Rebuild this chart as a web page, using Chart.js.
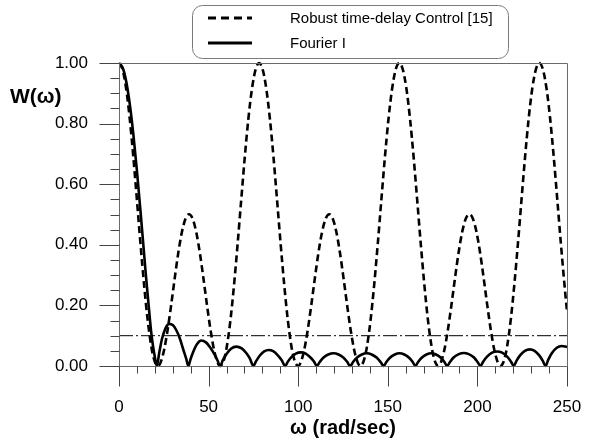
<!DOCTYPE html>
<html>
<head>
<meta charset="utf-8">
<script src="https://cdn.jsdelivr.net/npm/chart.js@4.4.1/dist/chart.umd.min.js"></script>
<style>
html,body{margin:0;padding:0;background:#fff;}
canvas{display:block;}
</style>
</head>
<body>
<canvas id="c" width="591" height="447"></canvas>
<script>
// ---------- data ----------
const seriesNames = ['Robust time-delay Control [15]', 'Fourier I'];

const omegaRobust = [0,2,4,6,8,10,12,14,16,18,19,20,21,21.7,
 23.1,24.1,25.1,27.1,29.1,31.1,33.1,35.1,37.1,39.1,41.1,43.1,45.1,47.1,49.1,51.1,53.1,54.1,55.1,56.5,
 57.2,58.2,59.2,60.2,62.2,64.2,66.2,68.2,70.2,72.2,74.2,76.2,78.2,80.2,82.2,84.2,86.2,88.2,90.2,92.2,94.2,96.2,97.2,98.2,99.2,99.9,
 101.3,102.3,103.3,105.3,107.3,109.3,111.3,113.3,115.3,117.3,119.3,121.3,123.3,125.3,127.3,129.3,131.3,132.3,133.3,134.7,
 135.4,136.4,137.4,138.4,140.4,142.4,144.4,146.4,148.4,150.4,152.4,154.4,156.4,158.4,160.4,162.4,164.4,166.4,168.4,170.4,172.4,174.4,175.4,176.4,177.4,178.1,
 179.5,180.5,181.5,183.5,185.5,187.5,189.5,191.5,193.5,195.5,197.5,199.5,201.5,203.5,205.5,207.5,209.5,210.5,211.5,212.9,
 213.6,214.6,215.6,216.6,218.6,220.6,222.6,224.6,226.6,228.6,230.6,232.6,234.6,236.6,238.6,240.6,242.6,244.6,246.6,248.6,250];

const wRobust = [1.000,0.978,0.915,0.816,0.690,0.548,0.403,0.268,0.152,0.065,0.035,0.014,0.003,0,
 0.010,0.028,0.051,0.118,0.201,0.290,0.374,0.442,0.486,0.501,0.486,0.442,0.374,0.290,0.201,0.118,0.051,0.028,0.010,0,
 0.003,0.014,0.035,0.065,0.152,0.268,0.403,0.548,0.690,0.816,0.915,0.978,1.000,0.978,0.915,0.816,0.690,0.548,0.403,0.268,0.152,0.065,0.035,0.014,0.003,0,
 0.010,0.028,0.051,0.118,0.201,0.290,0.374,0.442,0.486,0.501,0.486,0.442,0.374,0.290,0.201,0.118,0.051,0.028,0.010,0,
 0.003,0.014,0.035,0.065,0.152,0.268,0.403,0.548,0.690,0.816,0.915,0.978,1.000,0.978,0.915,0.816,0.690,0.548,0.403,0.268,0.152,0.065,0.035,0.014,0.003,0,
 0.010,0.028,0.051,0.118,0.201,0.290,0.374,0.442,0.486,0.501,0.486,0.442,0.374,0.290,0.201,0.118,0.051,0.028,0.010,0,
 0.003,0.014,0.035,0.065,0.152,0.268,0.403,0.548,0.690,0.816,0.915,0.978,1.000,0.978,0.915,0.816,0.690,0.548,0.403,0.268,0.180];

const omegaFourier = [0,2,4,6,8,10,12,14,15,16,17,18,19,20,21.1,
 22.5,24,26,28,30,32,34,36,37.5,38.7,
 40,41.5,43.5,46,48.5,51,53.5,55,56.4,
 58,60,62.5,65.5,68.5,71,73,75,
 76.5,78.5,81,83.5,86,88.5,90.8,92.7,
 94.2,96.2,98.7,101.5,104.2,106.7,108.8,110.4,
 112,114,116.8,119.7,122.5,125.3,127.4,129,
 130.6,132.7,135.5,138.3,141,143.9,146,147.7,
 149.2,151.2,153.9,156.5,159.2,161.9,163.9,165.4,
 166.9,168.9,171.6,174.2,176.9,179.6,181.6,183.1,
 184.7,186.7,189.6,192.4,195.2,198.1,200.1,201.7,
 203.3,205.4,208.2,211,213.8,216.6,218.7,220.3,
 221.8,223.8,226.5,229.2,231.9,234.5,236.5,238,
 239.5,241.5,244.3,247,250];

const wFourier = [1.000,0.985,0.940,0.865,0.765,0.645,0.510,0.370,0.300,0.235,0.170,0.110,0.065,0.030,0,
 0.045,0.090,0.125,0.139,0.135,0.118,0.090,0.052,0.024,0,
 0.024,0.048,0.072,0.084,0.078,0.060,0.036,0.018,0,
 0.020,0.040,0.057,0.064,0.058,0.043,0.025,0,
 0.016,0.034,0.048,0.053,0.049,0.036,0.019,0,
 0.014,0.029,0.041,0.045,0.041,0.029,0.015,0,
 0.013,0.027,0.038,0.042,0.038,0.027,0.013,0,
 0.013,0.027,0.038,0.042,0.038,0.027,0.013,0,
 0.013,0.027,0.038,0.042,0.038,0.027,0.013,0,
 0.013,0.027,0.038,0.042,0.038,0.027,0.013,0,
 0.013,0.028,0.039,0.043,0.039,0.028,0.013,0,
 0.015,0.031,0.044,0.048,0.044,0.031,0.015,0,
 0.017,0.035,0.050,0.055,0.050,0.035,0.017,0,
 0.020,0.042,0.060,0.066,0.063];

const refOmega = [0, 250];
const refLevel = [0.1, 0.1];

const xTickLabels = ['0','50','100','150','200','250'];
const yTickLabels = ['0.00','0.20','0.40','0.60','0.80','1.00'];
const xTitle = 'ω (rad/sec)';
const yTitle = 'W(ω)';

// ---------- chart ----------
const toPts = (xs, ys) => xs.map((x, i) => ({x: x, y: ys[i]}));
const FONT = "'Liberation Sans', Arial, sans-serif";

const decor = {
  id: 'decor',
  afterDraw(chart) {
    const ctx = chart.ctx, a = chart.chartArea, xs = chart.scales.x, ys = chart.scales.y;
    ctx.save();
    // frame
    ctx.strokeStyle = '#6a6a6a';
    ctx.lineWidth = 1;
    const L = Math.round(a.left) + 0.5, R = Math.round(a.right) + 0.5;
    const T = Math.round(a.top) + 0.5, B = Math.round(a.bottom) + 0.5;
    ctx.beginPath();
    ctx.moveTo(L, T); ctx.lineTo(R, T); ctx.lineTo(R, B); ctx.lineTo(L, B); ctx.closePath();
    ctx.stroke();
    // y ticks (major every 0.2, minor every 0.05)
    ctx.strokeStyle = '#444';
    for (let k = 0; k <= 20; k++) {
      const py = Math.round(ys.getPixelForValue(k * 0.05)) + 0.5;
      const len = (k % 4 === 0) ? 20 : 9;
      ctx.beginPath(); ctx.moveTo(L - len, py); ctx.lineTo(L, py); ctx.stroke();
    }
    // x ticks (major every 50, minor every 10)
    for (let k = 0; k <= 25; k++) {
      const px = Math.round(xs.getPixelForValue(k * 10)) + 0.5;
      const len = (k % 5 === 0) ? 20 : 7;
      ctx.beginPath(); ctx.moveTo(px, B); ctx.lineTo(px, B + len); ctx.stroke();
    }
    // y title
    ctx.fillStyle = '#000';
    ctx.font = 'bold 21px ' + FONT;
    ctx.textBaseline = 'middle';
    ctx.textAlign = 'left';
    ctx.fillText(yTitle, 10, 97);
    // legend box
    ctx.strokeStyle = '#7a7a7a';
    ctx.lineWidth = 1;
    ctx.beginPath();
    ctx.roundRect(192.5, 5.5, 316, 53, 10);
    ctx.stroke();
    const ds = chart.data.datasets;
    const rows = [18, 43];
    for (let i = 0; i < 2; i++) {
      ctx.strokeStyle = '#000';
      ctx.lineWidth = 3;
      ctx.setLineDash(i === 0 ? [8, 5] : []);
      ctx.beginPath(); ctx.moveTo(208, rows[i]); ctx.lineTo(252, rows[i]); ctx.stroke();
      ctx.setLineDash([]);
      ctx.font = '15px ' + FONT;
      ctx.fillText(ds[i].label, 290, rows[i] + 1);
    }
    ctx.restore();
  }
};

new Chart(document.getElementById('c'), {
  type: 'line',
  data: {
    datasets: [
      {label: seriesNames[0], data: toPts(omegaRobust, wRobust), borderColor: '#000', borderWidth: 2.6,
       borderDash: [7, 4], cubicInterpolationMode: 'monotone', pointRadius: 0, fill: false,
       clip: {left: 0, top: 2, right: 0, bottom: 2}},
      {label: seriesNames[1], data: toPts(omegaFourier, wFourier), borderColor: '#000', borderWidth: 2.6,
       cubicInterpolationMode: 'monotone', pointRadius: 0, fill: false,
       clip: {left: 0, top: 2, right: 0, bottom: 2}},
      {label: 'ref', data: toPts(refOmega, refLevel), borderColor: '#000', borderWidth: 1,
       borderDash: [14, 3, 2, 3], pointRadius: 0, fill: false, tension: 0}
    ]
  },
  options: {
    responsive: false,
    animation: false,
    devicePixelRatio: 1,
    layout: {padding: {left: 0, right: 24, top: 63, bottom: 0}},
    plugins: {legend: {display: false}, tooltip: {enabled: false}},
    scales: {
      x: {
        type: 'linear', min: 0, max: 250,
        grid: {display: false, drawTicks: false},
        border: {display: false},
        ticks: {stepSize: 50, color: '#000', font: {family: FONT, size: 17}, padding: 31, maxRotation: 0,
                callback: (v, i) => xTickLabels[i]},
        title: {display: true, text: xTitle, color: '#000', font: {family: FONT, size: 20, weight: 'bold'},
                padding: {top: 0, bottom: 7}},
        afterFit: (s) => { s.height = 81; s.paddingLeft = 0; s.paddingRight = 0; }
      },
      y: {
        min: 0, max: 1,
        grid: {display: false, drawTicks: false},
        border: {display: false},
        ticks: {stepSize: 0.2, color: '#000', font: {family: FONT, size: 17}, padding: 31,
                callback: (v, i) => yTickLabels[i]},
        afterFit: (s) => { s.width = 119; s.paddingTop = 0; s.paddingBottom = 0; }
      }
    }
  },
  plugins: [decor]
});
</script>
</body>
</html>
